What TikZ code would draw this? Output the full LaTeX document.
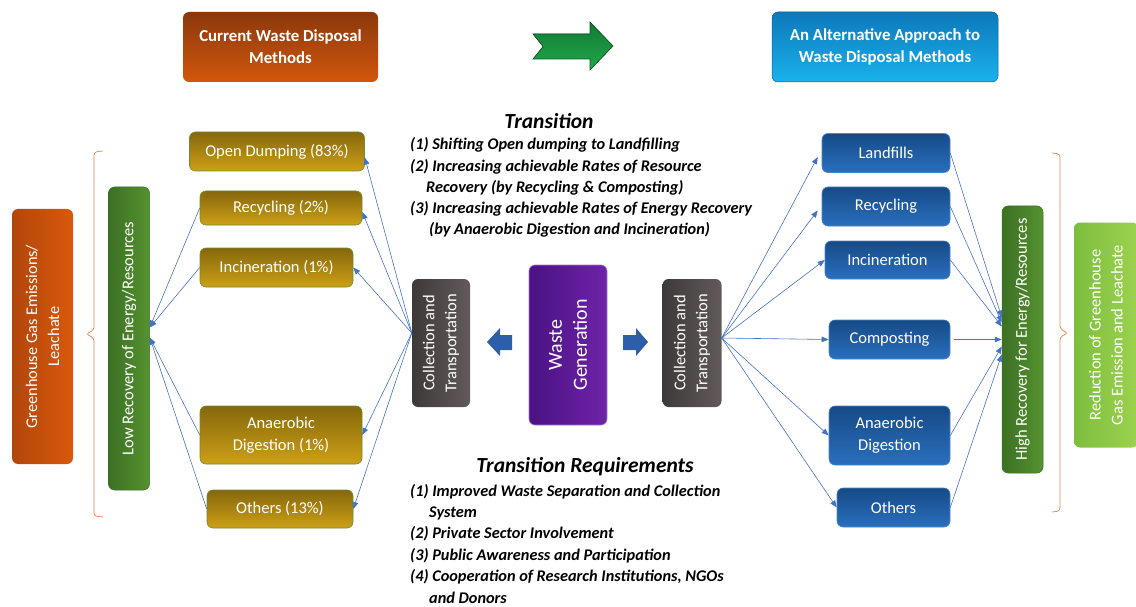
\documentclass[tikz,border=0pt]{standalone}
\usepackage{fontspec}
\setmainfont{Carlito}
\usetikzlibrary{arrows.meta}
\definecolor{orA}{HTML}{D2570B}
\definecolor{orB}{HTML}{8A380C}
\definecolor{ghA}{HTML}{D8590A}
\definecolor{ghB}{HTML}{B3460C}
\definecolor{goldA}{HTML}{CDA016}
\definecolor{goldB}{HTML}{86670C}
\definecolor{goldD}{HTML}{6F8B35}
\definecolor{bluA}{HTML}{2A6FBE}
\definecolor{bluB}{HTML}{164A86}
\definecolor{bluD}{HTML}{4A86C8}
\definecolor{altA}{HTML}{0D78BA}
\definecolor{altB}{HTML}{19B2EC}
\definecolor{grnA}{HTML}{55922F}
\definecolor{grnB}{HTML}{3C7024}
\definecolor{ltgA}{HTML}{7DBE3F}
\definecolor{ltgB}{HTML}{9CD24E}
\definecolor{colA}{HTML}{625A5A}
\definecolor{colB}{HTML}{3E3939}
\definecolor{purA}{HTML}{6E23A8}
\definecolor{purB}{HTML}{4A1282}
\definecolor{lineblue}{HTML}{4472C4}
\definecolor{brk}{HTML}{E8864A}
\definecolor{arrB}{HTML}{2D5EA8}
\definecolor{arrG}{HTML}{1FA84A}
\definecolor{arrGd}{HTML}{137A33}
\tikzset{
  box/.style={rounded corners=6pt, text=white, align=center, inner sep=2pt,
    font=\fontsize{16.5}{22}\selectfont},
  goldbox/.style={box, draw=goldD, line width=0.6pt, shading angle=135, top color=goldB, bottom color=goldA},
  bluebox/.style={box, draw=bluD, line width=0.6pt, shading angle=135, top color=bluB, bottom color=bluA},
  conn/.style={draw=lineblue, line width=0.6pt, -{Triangle[length=7pt,width=5.5pt]}},
  txt/.style={anchor=west, inner sep=0pt, font=\fontsize{16.3}{19}\selectfont\bfseries\itshape},
  ttl/.style={inner sep=0pt, font=\fontsize{21.5}{25}\selectfont\bfseries\itshape},
  brace/.style={draw=brk, line width=0.7pt, rounded corners=3pt}
}
\begin{document}
\begin{tikzpicture}[x=1pt,y=-1pt]
\useasboundingbox (0,0) rectangle (1136,607);

% top boxes
\node[box, minimum width=195pt, minimum height=70pt, shading angle=120, top color=orB, bottom color=orA,
  font=\fontsize{16.8}{22}\selectfont\bfseries] (cur) at (280.5,47) {Current Waste Disposal\\Methods};
\node[box, minimum width=226pt, minimum height=70pt, shading angle=120, top color=altA, bottom color=altB,
  draw=altA!80!black, line width=0.5pt, font=\fontsize{16.8}{22}\selectfont\bfseries] (alt) at (885,47) {An Alternative Approach to\\Waste Disposal Methods};
\fill[top color=arrGd, bottom color=arrG, draw=arrGd!70!black, line width=0.6pt]
  (533,34) -- (590,34) -- (590,22) -- (613,46) -- (590,70) -- (590,59) -- (533,59) -- (543,46.5) -- cycle;

% far left / far right vertical boxes
\node[box, rotate=90, minimum width=255pt, minimum height=61pt, left color=ghB, right color=ghA,
  font=\fontsize{16.3}{22}\selectfont] (gh) at (42.5,336.5)
  {Greenhouse Gas Emissions/\\Leachate};
\node[box, rotate=90, minimum width=303pt, minimum height=41pt, left color=grnB, right color=grnA, draw=grnB, line width=0.5pt] (low) at (129,338.5)
  {Low Recovery of Energy/Resources};
\node[box, rotate=90, minimum width=267pt, minimum height=41pt, left color=grnB, right color=grnA, draw=grnB, line width=0.5pt] (high) at (1022.5,339.5)
  {High Recovery for Energy/Resources};
\node[box, rotate=90, minimum width=225pt, minimum height=64pt, left color=ltgA, right color=ltgB,
  font=\fontsize{16.5}{22}\selectfont] (red) at (1106,335)
  {Reduction of Greenhouse\\Gas Emission and Leachate};

% braces
\draw[brace] (103,151) -- (94,152) -- (94,330) -- (86,334) -- (94,338) -- (94,516) -- (103,517);
\draw[brace] (1052,153) -- (1060,154) -- (1060,329) -- (1068,333) -- (1060,337) -- (1060,511) -- (1052,512);

% left method boxes
\node[goldbox, minimum width=175pt, minimum height=39pt] (od) at (277,151.5) {Open Dumping (83\%)};
\node[goldbox, minimum width=162pt, minimum height=34pt] (rec) at (281,208) {Recycling (2\%)};
\node[goldbox, minimum width=153pt, minimum height=39pt] (inc) at (276.5,267.5) {Incineration (1\%)};
\node[goldbox, minimum width=162pt, minimum height=58pt] (ad) at (281,435) {Anaerobic\\Digestion (1\%)};
\node[goldbox, minimum width=146pt, minimum height=38pt] (oth) at (280,509) {Others (13\%)};

% center
\node[box, rotate=90, minimum width=128pt, minimum height=58pt, left color=colB, right color=colA] (lct) at (441,343)
  {Collection and\\Transportation};
\node[box, rotate=90, minimum width=128pt, minimum height=59pt, left color=colB, right color=colA] (rct) at (692,343)
  {Collection and\\Transportation};
\node[box, rotate=90, minimum width=160pt, minimum height=78pt, left color=purB, right color=purA, draw=purA!60!white, line width=0.6pt,
  font=\fontsize{20}{25}\selectfont] (wg) at (568,345) {Waste\\Generation};
\fill[arrB] (487,342) -- (500,328) -- (500,335) -- (512,335) -- (512,350) -- (500,350) -- (500,356) -- cycle;
\fill[arrB] (648,342) -- (636,328) -- (636,335) -- (623,335) -- (623,350) -- (636,350) -- (636,356) -- cycle;

% right method boxes
\node[bluebox, minimum width=128pt, minimum height=39pt] (lf) at (886,153) {Landfills};
\node[bluebox, minimum width=128pt, minimum height=39pt] (rrec) at (886,206.5) {Recycling};
\node[bluebox, minimum width=125pt, minimum height=38pt] (rinc) at (887.5,260) {Incineration};
\node[bluebox, minimum width=121pt, minimum height=39pt] (comp) at (889.5,339.5) {Composting};
\node[bluebox, minimum width=121pt, minimum height=59pt] (rad) at (889.5,435.5) {Anaerobic\\Digestion};
\node[bluebox, minimum width=113pt, minimum height=39pt] (roth) at (893.5,507.5) {Others};

% texts
\node[ttl] (tt) at (549,121) {Transition};
\node[txt] (t1) at (410,145) {(1) Shifting Open dumping to Landfilling};
\node[txt] (t2) at (410,167) {(2) Increasing achievable Rates of Resource};
\node[txt] (t3) at (426,188) {Recovery (by Recycling \& Composting)};
\node[txt] (t4) at (410,209) {(3) Increasing achievable Rates of Energy Recovery};
\node[txt] (t5) at (429,230) {(by Anaerobic Digestion and Incineration)};

\node[ttl] (tr) at (585,467) {Transition Requirements};
\node[txt] (r1) at (410,492) {(1) Improved Waste Separation and Collection};
\node[txt] (r2) at (429,513) {System};
\node[txt] (r3) at (410,534) {(2) Private Sector Involvement};
\node[txt] (r4) at (410,556) {(3) Public Awareness and Participation};
\node[txt] (r5) at (410,577) {(4) Cooperation of Research Institutions, NGOs};
\node[txt] (r6) at (429,598) {and Donors};

% left connectors
\coordinate (ls) at ([yshift=10pt]lct.north);
\draw[conn] (ls) -- ([yshift=-6pt]od.east);
\draw[conn] (ls) -- ([yshift=-4pt]rec.east);
\draw[conn] (ls) -- (inc.east);
\draw[conn] (ls) -- (ad.east);
\draw[conn] (ls) -- (oth.east);
\draw[conn] (rec.west) -- ([yshift=11pt]low.south);
\draw[conn] (inc.west) -- ([yshift=11pt]low.south);
\draw[conn] (ad.west) -- ([yshift=1pt]low.south);
\draw[conn] (oth.west) -- ([yshift=1pt]low.south);

% right connectors
\coordinate (rs) at ([yshift=5pt]rct.south);
\draw[conn] (rs) -- ([xshift=-4pt,yshift=-4pt]lf.west);
\draw[conn] (rs) -- ([xshift=-4pt,yshift=-4pt]rrec.west);
\draw[conn] (rs) -- (rinc.west);
\draw[conn] (rs) -- (comp.west);
\draw[conn] (rs) -- (rad.west);
\draw[conn] (rs) -- (roth.west);
\draw[conn] (lf.east) -- ([yshift=22pt]high.north);
\draw[conn] (rrec.east) -- ([yshift=17pt]high.north);
\draw[conn] (rinc.east) -- ([yshift=13pt]high.north);
\draw[conn] ([xshift=4pt]comp.east) -- (high.north);
\draw[conn] (rad.east) -- ([yshift=-7pt]high.north);
\draw[conn] (roth.east) -- ([yshift=-15pt]high.north);
\end{tikzpicture}
\end{document}
